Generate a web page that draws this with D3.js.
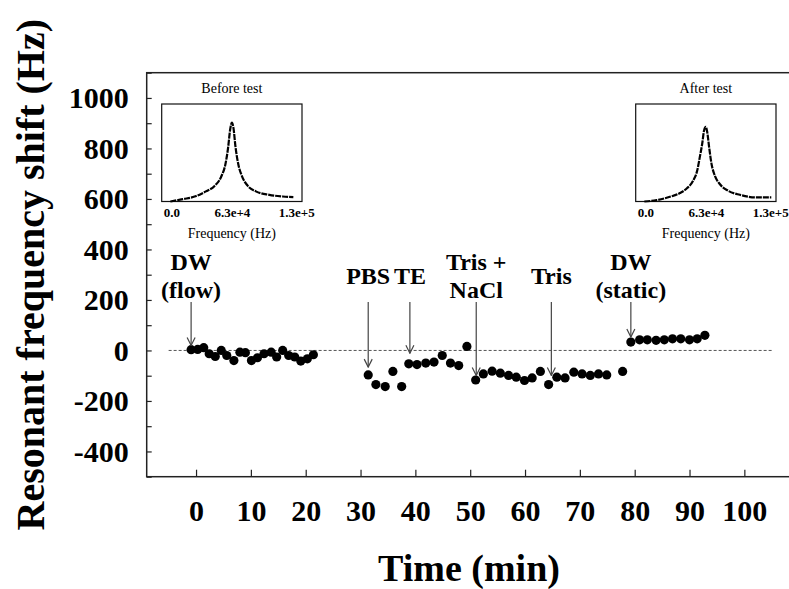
<!DOCTYPE html>
<html>
<head>
<meta charset="utf-8">
<script src="https://cdn.jsdelivr.net/npm/d3@7"></script>
<style>
  body { margin: 0; background: #fff; }
  svg { display: block; font-family: "Liberation Serif", "Times New Roman", serif; }
</style>
</head>
<body>
<div id="chart"></div>
<script>
// Measured points: time (min) and resonant frequency shift (Hz)
var timeMin = [-0.9, 0.3, 1.4, 2.4, 3.5, 4.6, 5.6, 6.9, 8.0, 9.0, 10.1, 11.2, 12.4, 13.7, 14.7, 15.8, 16.9, 18.0, 19.1, 20.3, 21.4,
  31.4, 32.8, 34.5, 35.9, 37.5,
  38.8, 40.3, 41.9, 43.4, 44.9, 46.4, 47.9, 49.4,
  51.0, 52.4, 54.0, 55.5, 57.0, 58.4, 59.9, 61.3, 62.8,
  64.3, 65.8, 67.3, 68.9, 70.4, 71.9, 73.4, 74.9, 77.8,
  79.3, 80.9, 82.3, 83.9, 85.4, 86.9, 88.4, 90.0, 91.4, 92.8];
var shiftHz = [3, 4, 11, -13, -24, 0, -20, -40, -7, -9, -40, -29, -13, -7, -26, 0, -20, -26, -42, -33, -17,
  -97, -135, -143, -83, -143,
  -53, -56, -50, -46, -20, -50, -60, 16,
  -117, -93, -82, -90, -99, -106, -119, -109, -83,
  -135, -106, -109, -86, -93, -99, -93, -97, -83,
  33, 42, 42, 40, 42, 46, 46, 42, 46, 60];

// Solution change annotations
var annoText = [["DW", "(flow)"], ["PBS"], ["TE"], ["Tris +", "NaCl"], ["Tris"], ["DW", "(static)"]];
var annoTime = [-0.9, 31.4, 39.0, 51.1, 64.8, 79.3];
var annoTip = [20, -66, -11, -99, -99, 53];
var annoStart = 192;
var annoLabelY = 262;

// Tick labels
var xTicks = [0, 10, 20, 30, 40, 50, 60, 70, 80, 90, 100];
var yTickLabels = [-400, -200, 0, 200, 400, 600, 800, 1000];

// Inset spectra: frequency (Hz) and relative amplitude
var beforeFreq = [-1000, 12000, 26000, 36000, 45000, 52000, 56500, 59200, 61200, 63000, 64700, 66800, 69500, 73700, 79600, 88000, 102000, 116000, 127000];
var beforeAmp = [0, 0.03, 0.07, 0.13, 0.2, 0.32, 0.49, 0.7, 0.92, 1.01, 0.94, 0.7, 0.49, 0.32, 0.2, 0.13, 0.085, 0.064, 0.055];
var afterFreq = [-1000, 11800, 25600, 36000, 43600, 49800, 54000, 56700, 59200, 61200, 63000, 64400, 66400, 68900, 72300, 77500, 86200, 98300, 115600, 131100];
var afterAmp = [0, 0.017, 0.06, 0.108, 0.172, 0.267, 0.397, 0.569, 0.741, 0.914, 0.957, 0.892, 0.698, 0.483, 0.332, 0.224, 0.138, 0.086, 0.052, 0.052];
var insetTicks = [0, 63000, 130000];
var insetTickText = ["0.0", "6.3e+4", "1.3e+5"];

var svgWidth = 789;
var svgHeight = 589;

var plot = { left: 146.7, top: 72.7, right: 793.7, bottom: 476.7 };

var svg = d3.select("#chart")
  .append("svg")
  .attr("width", svgWidth)
  .attr("height", svgHeight);

var x = d3.scaleLinear().domain([-9, 109]).range([plot.left, plot.right]);
var y = d3.scaleLinear().domain([-500, 1100]).range([plot.bottom, plot.top]);

// frame
svg.append("rect")
  .attr("x", plot.left)
  .attr("y", plot.top)
  .attr("width", plot.right - plot.left)
  .attr("height", plot.bottom - plot.top)
  .attr("fill", "none")
  .attr("stroke", "#222")
  .attr("stroke-width", 1.5);

// axes
var leftAxis = d3.axisLeft(y)
  .tickValues(d3.range(-500, 1101, 100))
  .tickSizeInner(-5)
  .tickSizeOuter(0)
  .tickPadding(18)
  .tickFormat(d => yTickLabels.indexOf(d) >= 0 ? String(d) : "");

var bottomAxis = d3.axisBottom(x)
  .tickValues(xTicks)
  .tickSizeInner(-7)
  .tickSizeOuter(0)
  .tickPadding(23)
  .tickFormat(d => String(d));

var gy = svg.append("g")
  .attr("transform", `translate(${plot.left}, 0)`)
  .call(leftAxis);
var gx = svg.append("g")
  .attr("transform", `translate(0, ${plot.bottom})`)
  .call(bottomAxis);

[gx, gy].forEach(function (g) {
  g.select(".domain").remove();
  g.selectAll(".tick line").attr("stroke", "#222").attr("stroke-width", 1.2);
  g.selectAll(".tick text")
    .attr("fill", "#000")
    .style("font-family", "'Liberation Serif', serif")
    .style("font-weight", "bold")
    .style("font-size", "30px");
});

// axis titles
svg.append("text")
  .attr("transform", `translate(44, ${(plot.top + plot.bottom) / 2}) rotate(-90)`)
  .attr("text-anchor", "middle")
  .style("font-weight", "bold")
  .style("font-size", "40px")
  .text("Resonant frequency shift (Hz)");

svg.append("text")
  .attr("x", 469)
  .attr("y", 581)
  .attr("text-anchor", "middle")
  .style("font-weight", "bold")
  .style("font-size", "38px")
  .text("Time (min)");

// zero reference line
svg.append("line")
  .attr("x1", x(-5))
  .attr("x2", x(105))
  .attr("y1", y(0))
  .attr("y2", y(0))
  .attr("stroke", "#555")
  .attr("stroke-width", 1)
  .attr("stroke-dasharray", "3,2");

// arrowhead
svg.append("defs").append("marker")
  .attr("id", "arrow")
  .attr("viewBox", "0 0 10 10")
  .attr("refX", 9)
  .attr("refY", 5)
  .attr("markerWidth", 10)
  .attr("markerHeight", 10)
  .attr("markerUnits", "userSpaceOnUse")
  .attr("orient", "auto")
  .append("path")
  .attr("d", "M1,1 L9,5 L1,9")
  .attr("fill", "none")
  .attr("stroke", "#444")
  .attr("stroke-width", 1.2);

// points
svg.append("g")
  .selectAll("circle")
  .data(timeMin)
  .enter()
  .append("circle")
  .attr("cx", d => x(d))
  .attr("cy", (d, i) => y(shiftHz[i]))
  .attr("r", 4.6)
  .attr("fill", "#000");

// annotation arrows and labels
var anno = svg.append("g");
annoTime.forEach(function (t, i) {
  anno.append("line")
    .attr("x1", x(t))
    .attr("x2", x(t))
    .attr("y1", y(annoStart))
    .attr("y2", y(annoTip[i]))
    .attr("stroke", "#444")
    .attr("stroke-width", 1.2)
    .attr("marker-end", "url(#arrow)");

  var lines = annoText[i];
  lines.forEach(function (s, j) {
    anno.append("text")
      .attr("x", x(t))
      .attr("y", y(annoLabelY) + (j - (lines.length - 1) / 2) * 28)
      .attr("text-anchor", "middle")
      .style("font-weight", "bold")
      .style("font-size", "24px")
      .text(s);
  });
});

// insets
function drawInset(left, title, freq, amp) {
  var top = 104, w = 140.3, h = 97.5;
  var ix = d3.scaleLinear().domain([-10000, 136000]).range([left, left + w]);
  var iy = d3.scaleLinear().domain([0, 1.25]).range([top + h, top]);
  var g = svg.append("g");

  g.append("rect")
    .attr("x", left)
    .attr("y", top)
    .attr("width", w)
    .attr("height", h)
    .attr("fill", "#fff")
    .attr("stroke", "#111")
    .attr("stroke-width", 1.2);

  var line = d3.line()
    .x((d, i) => ix(d))
    .y((d, i) => iy(amp[i]))
    .curve(d3.curveMonotoneX);

  g.append("path")
    .attr("d", line(freq))
    .attr("fill", "none")
    .attr("stroke", "#000")
    .attr("stroke-width", 2.2)
    .attr("stroke-dasharray", "6,1");

  g.append("text")
    .attr("x", left + w / 2)
    .attr("y", 93.3)
    .attr("text-anchor", "middle")
    .style("font-size", "14px")
    .text(title);

  var ax = d3.axisBottom(ix)
    .tickValues(insetTicks)
    .tickSize(0)
    .tickPadding(6)
    .tickFormat((d, i) => insetTickText[i]);
  var ga = g.append("g")
    .attr("transform", `translate(0, ${top + h})`)
    .call(ax);
  ga.select(".domain").remove();
  ga.selectAll(".tick text")
    .attr("fill", "#000")
    .style("font-family", "'Liberation Serif', serif")
    .style("font-weight", "bold")
    .style("font-size", "13px");

  g.append("text")
    .attr("x", left + w / 2)
    .attr("y", 238)
    .attr("text-anchor", "middle")
    .style("font-size", "14px")
    .text("Frequency (Hz)");
}

drawInset(161.7, "Before test", beforeFreq, beforeAmp);
drawInset(635.7, "After test", afterFreq, afterAmp);
</script>
</body>
</html>
